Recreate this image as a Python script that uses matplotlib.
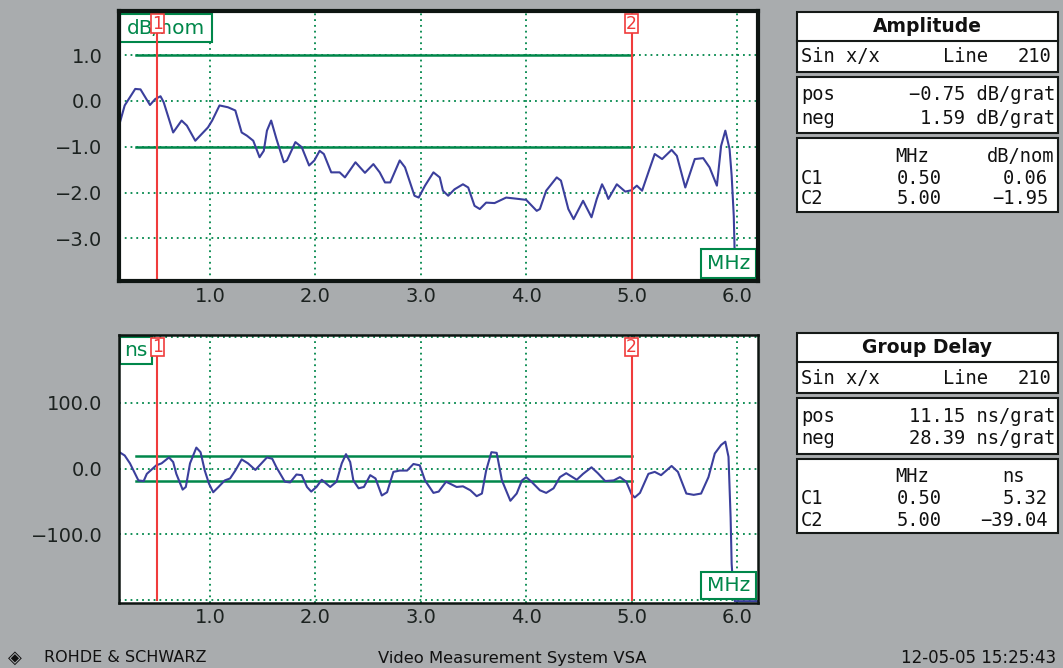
import numpy as np
import matplotlib.pyplot as plt
from matplotlib.patches import Rectangle

# ---- data ----
amp_freq = [0.14, 0.19, 0.29, 0.34, 0.43, 0.48, 0.53, 0.56, 0.65, 0.73, 0.78, 0.86, 0.98,
            1.02, 1.09, 1.17, 1.24, 1.30, 1.35, 1.41, 1.47, 1.51, 1.54, 1.58, 1.63, 1.70,
            1.73, 1.81, 1.87, 1.94, 1.99, 2.04, 2.08, 2.15, 2.23, 2.28, 2.38, 2.47, 2.55,
            2.61, 2.66, 2.71, 2.80, 2.85, 2.94, 2.98, 3.04, 3.12, 3.18, 3.21, 3.26, 3.32,
            3.40, 3.45, 3.51, 3.56, 3.62, 3.70, 3.81, 3.89, 4.00, 4.10, 4.13, 4.19, 4.29,
            4.33, 4.40, 4.45, 4.54, 4.62, 4.67, 4.72, 4.75, 4.78, 4.86, 4.94, 5.00, 5.05,
            5.10, 5.17, 5.22, 5.29, 5.38, 5.43, 5.51, 5.60, 5.68, 5.74, 5.81, 5.85, 5.89,
            5.93, 5.95, 5.97, 5.98, 5.99, 6.20]
amp_db = [-0.51, -0.10, 0.26, 0.25, -0.09, 0.04, 0.10, -0.03, -0.69, -0.43, -0.54, -0.87, -0.58,
          -0.43, -0.10, -0.14, -0.21, -0.69, -0.76, -0.87, -1.23, -1.09, -0.65, -0.43, -0.83, -1.34,
          -1.30, -0.90, -1.01, -1.41, -1.30, -1.09, -1.16, -1.56, -1.56, -1.67, -1.34, -1.57, -1.38,
          -1.56, -1.78, -1.78, -1.30, -1.45, -2.07, -2.11, -1.85, -1.56, -1.67, -1.96, -2.07, -1.93,
          -1.82, -1.89, -2.29, -2.36, -2.22, -2.23, -2.11, -2.13, -2.16, -2.40, -2.36, -1.96, -1.67,
          -1.74, -2.36, -2.58, -2.18, -2.54, -2.14, -1.82, -1.96, -2.14, -1.82, -1.98, -1.95, -1.85,
          -1.96, -1.49, -1.16, -1.27, -1.07, -1.20, -1.89, -1.27, -1.25, -1.45, -1.85, -0.98, -0.65,
          -1.05, -1.63, -2.51, -3.46, -3.91, -3.91]

gd_freq = [0.14, 0.19, 0.24, 0.32, 0.37, 0.40, 0.49, 0.54, 0.61, 0.65, 0.68, 0.74, 0.77, 0.81,
           0.87, 0.91, 0.95, 0.99, 1.03, 1.08, 1.14, 1.19, 1.24, 1.30, 1.36, 1.43, 1.54, 1.59,
           1.63, 1.71, 1.76, 1.82, 1.87, 1.92, 1.96, 2.01, 2.06, 2.14, 2.20, 2.25, 2.29, 2.33,
           2.36, 2.41, 2.46, 2.52, 2.57, 2.63, 2.68, 2.74, 2.80, 2.87, 2.93, 2.99, 3.04, 3.12,
           3.17, 3.24, 3.34, 3.40, 3.47, 3.53, 3.58, 3.62, 3.67, 3.72, 3.77, 3.85, 3.91, 3.96,
           4.00, 4.05, 4.13, 4.19, 4.26, 4.32, 4.38, 4.43, 4.48, 4.54, 4.62, 4.68, 4.75, 4.83,
           4.89, 4.95, 5.00, 5.03, 5.08, 5.16, 5.22, 5.28, 5.38, 5.44, 5.52, 5.59, 5.66, 5.73,
           5.79, 5.85, 5.89, 5.92, 5.94, 5.95, 5.97, 5.98, 6.20]
gd_ns = [25, 20, 8, -18, -19, -8, 5, 8, 17, 10, -8, -32, -28, 8,
         32, 25, -3, -23, -36, -28, -18, -15, -3, 14, 8, -2, 17, 15,
         2, -20, -21, -9, -10, -28, -35, -28, -17, -28, -20, 8, 22, 10,
         -18, -30, -28, -10, -15, -41, -36, -5, -3, -3, 7, 5, -18, -37,
         -35, -20, -28, -27, -33, -42, -38, -3, 25, 24, -18, -49, -38, -18,
         -13, -20, -33, -37, -30, -13, -7, -12, -17, -8, 2, -7, -19, -18,
         -13, -20, -39, -44, -37, -8, -5, -10, 4, -5, -38, -40, -38, -13,
         23, 36, 41, 18, -74, -145, -195, -202, -202]

marker_freq = [0.5, 5.0]
marker_names = ['1', '2']
tol_start, tol_end = 0.3, 5.0
amp_tol = [1.0, -1.0]
gd_tol = [19, -19]

x_ticks = [1.0, 2.0, 3.0, 4.0, 5.0, 6.0]
x_tick_labels = ['1.0', '2.0', '3.0', '4.0', '5.0', '6.0']
amp_ticks = [1.0, 0.0, -1.0, -2.0, -3.0]
amp_tick_labels = ['1.0', '0.0', '\u22121.0', '\u22122.0', '\u22123.0']
gd_ticks = [100, 0, -100]
gd_tick_labels = ['100.0', '0.0', '\u2212100.0']
gd_grid = [200, 100, 0, -100, -200]

cursor_names = ['C1', 'C2']
cursor_mhz = ['0.50', '5.00']
amp_scale = ['\u22120.75 dB/grat', '1.59 dB/grat']
amp_cursor = ['0.06', '\u22121.95']
gd_scale = ['11.15 ns/grat', '28.39 ns/grat']
gd_cursor = ['5.32', '\u221239.04']

# ---- colours ----
BG = '#a9acae'
GREEN = '#00874a'
BLUE = '#3b3f9c'
RED = '#f03c3c'
INK = '#1c2220'

W, H = 1063, 668


def fx(px):
    return px / W


def fy(py):
    return 1 - py / H


fig = plt.figure(figsize=(W / 100, H / 100), dpi=100, facecolor=BG)
ax1 = fig.add_axes([fx(119), fy(281), 639 / W, 270 / H])
ax2 = fig.add_axes([fx(119), fy(602.5), 639 / W, 267.8 / H])


def setup_axes(ax, ylim, yticks, ylabels, grid_vals, spine_w):
    ax.set_facecolor('white')
    ax.set_xlim(0.136, 6.2)
    ax.set_ylim(*ylim)
    ax.set_xticks(x_ticks)
    ax.set_xticklabels(x_tick_labels)
    ax.set_yticks(yticks)
    ax.set_yticklabels(ylabels)
    ax.tick_params(length=0, labelsize=14, labelcolor=INK)
    ax.tick_params(axis='y', pad=12)
    ax.tick_params(axis='x', pad=4)
    for v in x_ticks:
        ax.axvline(v, color=GREEN, lw=1.3, ls=(0, (1, 2.2)), zorder=1)
    for v in grid_vals:
        ax.axhline(v, color=GREEN, lw=1.3, ls=(0, (1, 2.2)), zorder=1)
    for s in ax.spines.values():
        s.set_linewidth(spine_w)
        s.set_color('#0e1512')
        s.set_zorder(10)


setup_axes(ax1, (-3.93, 1.96), amp_ticks, amp_tick_labels, amp_ticks, 3.0)
setup_axes(ax2, (-204, 204), gd_ticks, gd_tick_labels, gd_grid, 1.8)

# tolerance lines
for v in amp_tol:
    ax1.plot([tol_start, tol_end], [v, v], color=GREEN, lw=1.8, zorder=3)
for v in gd_tol:
    ax2.plot([tol_start, tol_end], [v, v], color=GREEN, lw=1.8, zorder=3)

# measured curves
ax1.plot(amp_freq, amp_db, color=BLUE, lw=1.5, zorder=4)
ax2.plot(gd_freq, gd_ns, color=BLUE, lw=1.5, zorder=4)


def unit_box(ax, x0, y0, x1, y1, label):
    ax.add_patch(Rectangle((x0, y0), x1 - x0, y1 - y0, transform=ax.transAxes,
                           fc='white', ec=GREEN, lw=1.5, zorder=5))
    ax.text((x0 + x1) / 2, (y0 + y1) / 2, label, transform=ax.transAxes, ha='center',
            va='center', color=GREEN, fontsize=14.5, zorder=6)


unit_box(ax1, 0.002, 0.885, 0.146, 0.989, 'dB/nom')
unit_box(ax2, 0.002, 0.889, 0.052, 0.992, 'ns')
unit_box(ax1, 0.911, 0.012, 0.997, 0.118, 'MHz')
unit_box(ax2, 0.911, 0.012, 0.997, 0.113, 'MHz')

# cursors
for ax in [ax1, ax2]:
    tr = ax.get_xaxis_transform()
    for f, name in zip(marker_freq, marker_names):
        ax.plot([f, f], [0.008, 0.92], transform=tr, color=RED, lw=1.5, zorder=7)
        ax.add_patch(Rectangle((f - 0.064, 0.92), 0.128, 0.068, transform=tr,
                               fc='white', ec=RED, lw=1.2, zorder=8))
        ax.text(f, 0.953, name, transform=tr, ha='center', va='center', color=RED,
                fontsize=12.5, zorder=9)


# ---- readout panels on the right ----
def fig_box(x0, y0, x1, y1):
    fig.add_artist(Rectangle((fx(x0), fy(y1)), (x1 - x0) / W, (y1 - y0) / H,
                             transform=fig.transFigure, fc='white', ec='#161a18', lw=1.5))


def ptext(px, py, s, ha='left', **kw):
    fig.text(fx(px), fy(py), s, ha=ha, va='center', color='#111', fontsize=13.5,
             family='DejaVu Sans Mono', **kw)


def draw_panel(top, title, scale_vals, unit, unit_x, unit_ha, cursor_vals):
    fig_box(797, top, 1058, top + 60)
    fig.add_artist(plt.Line2D([fx(797), fx(1058)], [fy(top + 29), fy(top + 29)],
                              transform=fig.transFigure, color='#161a18', lw=1.5))
    fig.text(fx(927.5), fy(top + 14.5), title, ha='center', va='center', color='#111',
             fontsize=13.5, fontweight='bold')
    ptext(801, top + 45, 'Sin x/x')
    ptext(943, top + 45, 'Line')
    ptext(1051, top + 45, '210', ha='right')

    fig_box(797, top + 65, 1058, top + 121)
    ptext(801, top + 83, 'pos')
    ptext(801, top + 106, 'neg')
    ptext(1055, top + 83, scale_vals[0], ha='right')
    ptext(1055, top + 106, scale_vals[1], ha='right')

    fig_box(797, top + 126, 1058, top + 200)
    ptext(912, top + 144, 'MHz', ha='center')
    ptext(unit_x, top + 144, unit, ha=unit_ha)
    for i in range(2):
        yy = top + 166 + 21 * i
        ptext(801, yy, cursor_names[i])
        ptext(919, yy, cursor_mhz[i], ha='center')
        ptext(1048, yy, cursor_vals[i], ha='right')


draw_panel(12, 'Amplitude', amp_scale, 'dB/nom', 1054, 'right', amp_cursor)
draw_panel(333, 'Group Delay', gd_scale, 'ns', 1014, 'center', gd_cursor)

# ---- footer ----
fig.text(fx(15), fy(658), '\u25c8', ha='center', va='center', fontsize=13, color='#111')
fig.text(fx(44), fy(658), 'ROHDE & SCHWARZ', ha='left', va='center', fontsize=11.5, color='#111')
fig.text(fx(512), fy(658), 'Video Measurement System VSA', ha='center', va='center',
         fontsize=11.8, color='#111')
fig.text(fx(1056), fy(658), '12-05-05 15:25:43', ha='right', va='center', fontsize=12,
         color='#111')

plt.savefig('out.png', dpi=100, facecolor=BG)
